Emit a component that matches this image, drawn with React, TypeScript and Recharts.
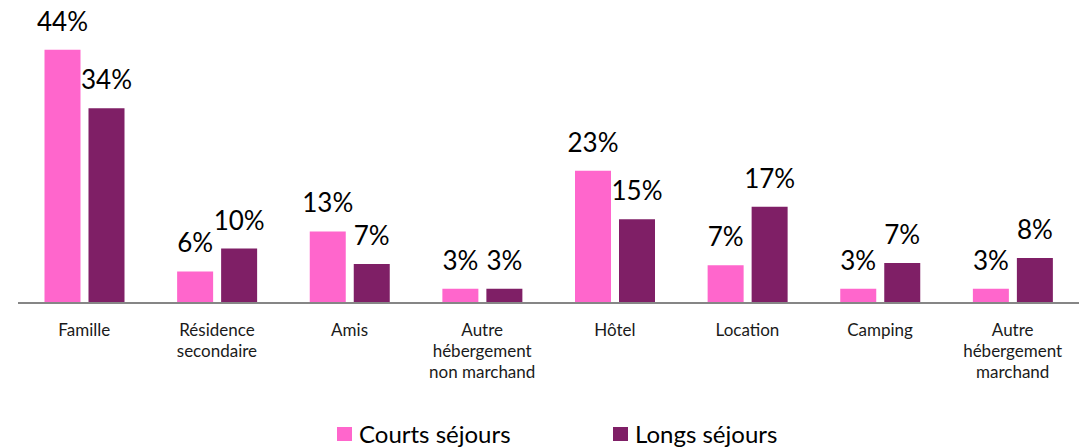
import { BarChart, Bar, XAxis, YAxis, LabelList } from 'recharts';

const categories = [
  'Famille',
  'Résidence\nsecondaire',
  'Amis',
  'Autre\nhébergement\nnon marchand',
  'Hôtel',
  'Location',
  'Camping',
  'Autre\nhébergement\nmarchand',
];
// bar heights; labels show the rounded value
const courts = [44.2, 5.5, 12.5, 2.5, 23.1, 6.6, 2.5, 2.5];
const longs = [34, 9.5, 6.8, 2.5, 14.6, 16.8, 7, 7.85];

const PINK = '#FF66CC';
const PURPLE = '#7F1F66';
const FONT = 'Lato, "Open Sans", sans-serif';

const data = categories.map((name, i) => ({ name, courts: courts[i], longs: longs[i] }));

function CategoryTick({ x, y, payload }: any) {
  const lines = String(payload.value).split('\n');
  return (
    <text x={x} y={y} textAnchor="middle" fontSize={17} fontFamily={FONT} fill="#1a1a1a">
      {lines.map((line, i) => (
        <tspan key={i} x={x} dy={i === 0 ? 32.5 : 21}>
          {line}
        </tspan>
      ))}
    </text>
  );
}

const pct = (v: any) => `${Math.round(Number(v))}%`;

export default function App() {
  return (
    <div style={{ position: 'absolute', left: 0, top: 0, width: 1084, height: 448, background: '#fff' }}>
      <BarChart
        width={1084}
        height={448}
        data={data}
        margin={{ top: 16.5, right: 5, bottom: 0, left: 18 }}
        barGap={8}
        barCategoryGap={26.5}
      >
        <XAxis
          dataKey="name"
          height={145}
          interval={0}
          tickLine={false}
          tickSize={0}
          tickMargin={0}
          axisLine={{ stroke: '#868686', strokeWidth: 2 }}
          tick={<CategoryTick />}
        />
        <YAxis hide domain={[0, 50]} />
        <Bar dataKey="courts" fill={PINK} isAnimationActive={false}>
          <LabelList
            dataKey="courts"
            position="top"
            offset={19}
            formatter={pct}
            style={{ fontSize: 26, fontFamily: FONT, fill: '#000' }}
          />
        </Bar>
        <Bar dataKey="longs" fill={PURPLE} isAnimationActive={false}>
          <LabelList
            dataKey="longs"
            position="top"
            offset={19}
            formatter={pct}
            style={{ fontSize: 26, fontFamily: FONT, fill: '#000' }}
          />
        </Bar>
      </BarChart>
      {[
        { label: 'Courts séjours', color: PINK, left: 337 },
        { label: 'Longs séjours', color: PURPLE, left: 613 },
      ].map((item) => (
        <div
          key={item.label}
          style={{
            position: 'absolute',
            left: item.left,
            top: 420,
            display: 'flex',
            alignItems: 'center',
            fontFamily: FONT,
            fontSize: 24,
            color: '#000',
            lineHeight: '28px',
            whiteSpace: 'nowrap',
          }}
        >
          <span style={{ display: 'inline-block', width: 15, height: 14, background: item.color, marginRight: 7 }} />
          {item.label}
        </div>
      ))}
    </div>
  );
}
